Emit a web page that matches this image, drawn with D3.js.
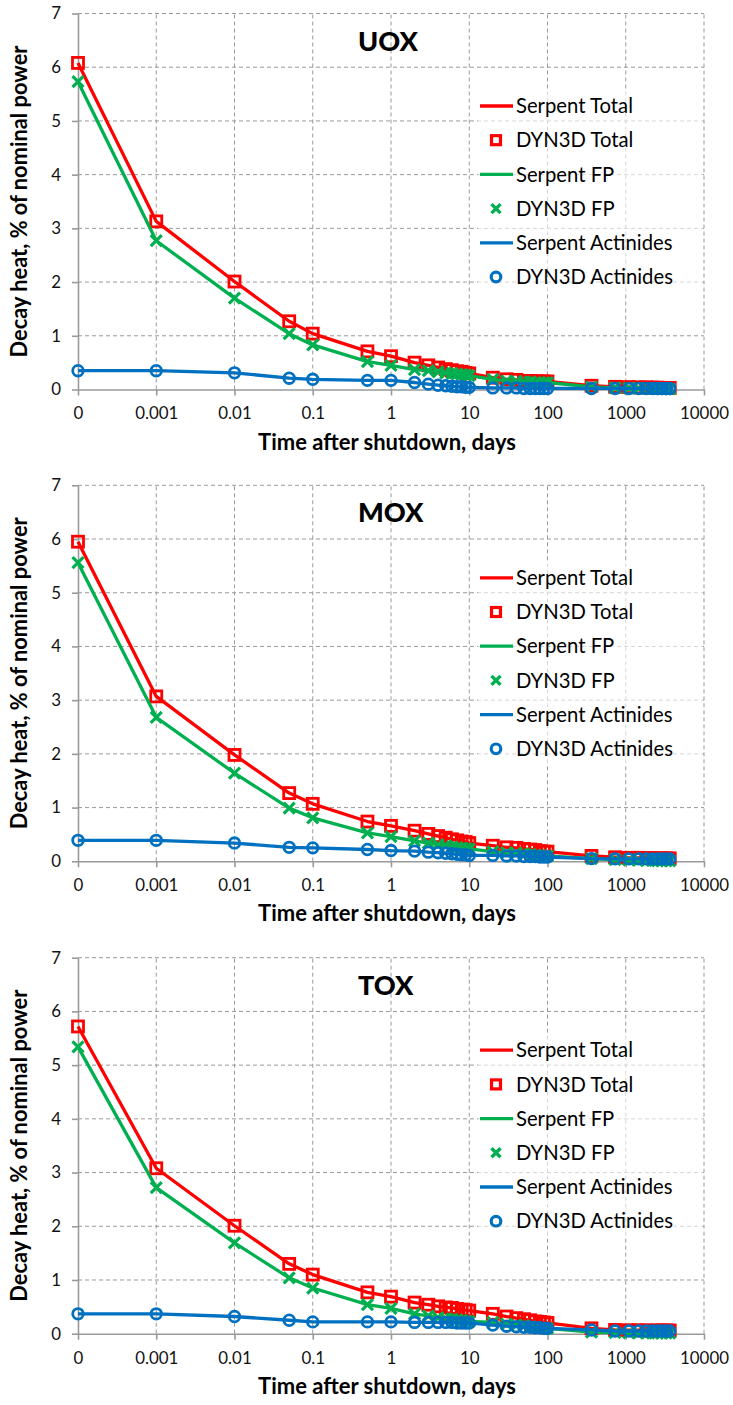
<!DOCTYPE html>
<html><head><meta charset="utf-8">
<script src="https://cdn.jsdelivr.net/npm/d3@7"></script>
<style>body{margin:0;background:#fff} svg{display:block}</style>
</head><body><svg id="c" width="733" height="1405"></svg>
<script>
// ---------- data ----------
const times = [0,0.001,0.01,0.05,0.1,0.5,1,2,3,4,5,6,7,8,9,10,20,30,40,50,60,70,80,90,100,365,730,1095,1460,1825,2190,2555,2920,3285,3650];
const xTickValues = [1e-4,1e-3,1e-2,1e-1,1,10,100,1000,10000];
const xTickLabels = ["0","0.001","0.01","0.1","1","10","100","1000","10000"];
const yTickValues = [0,1,2,3,4,5,6,7];
const panelTitles = ["UOX","MOX","TOX"];
const legendLabels = ["Serpent Total","DYN3D Total","Serpent FP","DYN3D FP","Serpent Actinides","DYN3D Actinides"];

const uoxTotal = [6.08,3.13,2.01,1.27,1.04,0.71,0.62,0.50,0.45,0.41,0.38,0.36,0.34,0.33,0.31,0.30,0.22,0.19,0.18,0.16,0.16,0.15,0.15,0.15,0.15,0.07,0.05,0.045,0.04,0.04,0.035,0.035,0.03,0.03,0.03];
const uoxFP    = [5.73,2.77,1.70,1.04,0.83,0.52,0.45,0.37,0.35,0.33,0.31,0.30,0.29,0.28,0.27,0.26,0.19,0.16,0.15,0.14,0.14,0.13,0.13,0.13,0.13,0.05,0.03,0.025,0.02,0.02,0.015,0.015,0.01,0.01,0.01];
const uoxAct   = [0.35,0.35,0.31,0.21,0.19,0.17,0.17,0.13,0.10,0.08,0.07,0.06,0.05,0.05,0.04,0.04,0.03,0.03,0.03,0.02,0.02,0.02,0.02,0.02,0.02,0.02,0.02,0.02,0.02,0.02,0.02,0.02,0.02,0.02,0.02];

const moxTotal = [5.95,3.07,1.98,1.27,1.07,0.74,0.66,0.57,0.51,0.47,0.44,0.41,0.39,0.37,0.36,0.34,0.29,0.26,0.25,0.23,0.22,0.21,0.19,0.18,0.18,0.10,0.075,0.065,0.065,0.06,0.06,0.055,0.055,0.055,0.055];
const moxFP    = [5.56,2.68,1.64,0.99,0.81,0.53,0.46,0.38,0.34,0.31,0.29,0.27,0.26,0.25,0.24,0.23,0.18,0.16,0.15,0.14,0.13,0.12,0.11,0.10,0.10,0.05,0.03,0.02,0.02,0.015,0.015,0.01,0.01,0.01,0.01];
const moxAct   = [0.39,0.39,0.34,0.26,0.25,0.22,0.20,0.19,0.17,0.16,0.15,0.14,0.13,0.12,0.12,0.11,0.11,0.10,0.10,0.09,0.09,0.09,0.08,0.08,0.08,0.05,0.045,0.045,0.045,0.045,0.045,0.045,0.045,0.045,0.045];

const toxTotal = [5.72,3.08,2.01,1.30,1.10,0.77,0.69,0.58,0.54,0.51,0.49,0.48,0.46,0.45,0.44,0.43,0.37,0.32,0.29,0.27,0.25,0.23,0.22,0.21,0.20,0.10,0.07,0.065,0.065,0.06,0.06,0.06,0.06,0.06,0.06];
const toxFP    = [5.34,2.72,1.69,1.04,0.85,0.54,0.47,0.37,0.33,0.30,0.28,0.27,0.26,0.25,0.24,0.23,0.21,0.18,0.16,0.15,0.13,0.12,0.11,0.11,0.10,0.03,0.02,0.015,0.015,0.01,0.01,0.01,0.01,0.01,0.01];
const toxAct   = [0.37,0.37,0.32,0.25,0.22,0.22,0.22,0.21,0.21,0.21,0.21,0.21,0.20,0.20,0.20,0.20,0.16,0.14,0.13,0.12,0.12,0.11,0.11,0.10,0.10,0.07,0.05,0.05,0.05,0.05,0.05,0.05,0.05,0.05,0.05];

const panelData = [
  {total: uoxTotal, fp: uoxFP, act: uoxAct},
  {total: moxTotal, fp: moxFP, act: moxAct},
  {total: toxTotal, fp: toxFP, act: toxAct}
];

// ---------- layout ----------
const RED = "#FF0000", GREEN = "#00B050", BLUE = "#0070C0", GRID = "#9a9a9a";
const FONT = "Lato, 'Open Sans', sans-serif";
const left = 78, right = 704;
const panelTops = [13.5, 485.3, 957.7];
const plotH = 376;

const svg = d3.select("#c");
const x = d3.scaleLog().domain([1e-4, 1e4]).range([left, right]);
const xv = t => x(t === 0 ? 1e-4 : t);

function fit(sel, target) {
  const w = sel.node().getComputedTextLength();
  const fs = parseFloat(sel.attr("font-size"));
  sel.attr("font-size", fs * target / w);
  return fs * target / w;
}

let legendFS = null, tickFS = null, titleFS = null, yTitleFS = null, xTitleFS = null;

panelTitles.forEach((title, pi) => {
  const top = panelTops[pi];
  const y = d3.scaleLinear().domain([0, 7]).range([top + plotH, top]);
  const g = svg.append("g");
  const d = panelData[pi];

  // grid
  g.append("g").selectAll("line").data(yTickValues.filter(v => v > 0)).join("line")
    .attr("x1", left).attr("x2", right).attr("y1", v => y(v)).attr("y2", v => y(v))
    .attr("stroke", GRID).attr("stroke-width", 1).attr("stroke-dasharray", "4,3");
  g.append("g").selectAll("line").data(xTickValues.slice(1)).join("line")
    .attr("x1", v => x(v)).attr("x2", v => x(v)).attr("y1", y(0)).attr("y2", y(7))
    .attr("stroke", GRID).attr("stroke-width", 1).attr("stroke-dasharray", "4,3");

  // axes
  const xAxis = d3.axisBottom(x).tickValues(xTickValues).tickFormat((v, i) => xTickLabels[i]).tickSizeInner(6).tickSizeOuter(0).tickPadding(12);
  const gx = g.append("g").attr("transform", `translate(0,${y(0)})`).call(xAxis);
  const yAxis = d3.axisLeft(y).tickValues(yTickValues).tickFormat(d3.format("d")).tickSizeInner(6).tickSizeOuter(0).tickPadding(11);
  const gy = g.append("g").attr("transform", `translate(${left},0)`).call(yAxis);
  [gx, gy].forEach(a => {
    a.select(".domain").attr("stroke", GRID).attr("stroke-width", 1.6);
    a.selectAll(".tick line").attr("stroke", GRID).attr("stroke-width", 1.6);
    a.selectAll(".tick text").attr("fill", "#111").attr("font-family", FONT).attr("font-size", 17);
  });
  if (tickFS === null) {
    const t = gx.selectAll(".tick text").filter((v, i) => i === 8);
    tickFS = fit(t, 49);
  }
  gx.selectAll(".tick text").attr("font-size", tickFS).attr("dy", "0.71em");
  gy.selectAll(".tick text").attr("font-size", tickFS);

  // series
  const line = arr => d3.line().x((v, i) => xv(times[i])).y(v => y(v))(arr);
  function drawLine(arr, color) {
    g.append("path").attr("d", line(arr)).attr("fill", "none").attr("stroke", color)
      .attr("stroke-width", 3.3).attr("stroke-linejoin", "round");
  }
  drawLine(d.total, RED);
  g.append("g").selectAll("rect").data(d.total).join("rect")
    .attr("x", (v, i) => xv(times[i]) - 5.5).attr("y", v => y(v) - 5.5)
    .attr("width", 11).attr("height", 11).attr("fill", "none").attr("stroke", RED).attr("stroke-width", 2.8);
  drawLine(d.fp, GREEN);
  g.append("g").selectAll("path").data(d.fp).join("path")
    .attr("d", (v, i) => { const cx = xv(times[i]), cy = y(v), s = 5.5;
      return `M${cx-s},${cy-s}L${cx+s},${cy+s}M${cx-s},${cy+s}L${cx+s},${cy-s}`; })
    .attr("stroke", GREEN).attr("stroke-width", 3.2).attr("fill", "none");
  drawLine(d.act, BLUE);
  g.append("g").selectAll("circle").data(d.act).join("circle")
    .attr("cx", (v, i) => xv(times[i])).attr("cy", v => y(v)).attr("r", 5.3)
    .attr("fill", "none").attr("stroke", BLUE).attr("stroke-width", 2.8);

  // title
  const tt = g.append("text").attr("x", 358).attr("y", top + 37).text(title)
    .attr("font-family", FONT).attr("font-weight", 900).attr("font-size", 28).attr("fill", "#000");
  if (titleFS === null) titleFS = fit(tt, 60);
  tt.attr("font-size", titleFS);

  // legend
  const lg = g.append("g");
  lg.append("rect").attr("x", 478).attr("y", top + 76).attr("width", 225).attr("height", 204)
    .attr("fill", "#fff").attr("opacity", 0.6);
  const colors = [RED, RED, GREEN, GREEN, BLUE, BLUE];
  legendLabels.forEach((lab, k) => {
    const cy = top + 92.5 + k * 34.2;
    const c = colors[k];
    if (k % 2 === 0) {
      lg.append("line").attr("x1", 480).attr("x2", 513).attr("y1", cy).attr("y2", cy)
        .attr("stroke", c).attr("stroke-width", 3.3);
    } else if (k === 1) {
      lg.append("rect").attr("x", 496 - 4.5).attr("y", cy - 4.5).attr("width", 9).attr("height", 9)
        .attr("fill", "none").attr("stroke", c).attr("stroke-width", 3.2);
    } else if (k === 3) {
      const s = 4.5;
      lg.append("path").attr("d", `M${496-s},${cy-s}L${496+s},${cy+s}M${496-s},${cy+s}L${496+s},${cy-s}`)
        .attr("stroke", c).attr("stroke-width", 3.4);
    } else {
      lg.append("circle").attr("cx", 496).attr("cy", cy).attr("r", 4.8)
        .attr("fill", "none").attr("stroke", c).attr("stroke-width", 3.2);
    }
    const tx = lg.append("text").attr("x", 516).attr("y", cy).attr("dy", "0.36em").text(lab)
      .attr("font-family", FONT).attr("font-size", 21).attr("fill", "#000");
    if (k === 5 && legendFS === null) legendFS = fit(tx, 157);
  });

  // axis titles
  const xt = g.append("text").attr("x", (left + right) / 2 - 4).attr("y", y(0) + 60)
    .attr("text-anchor", "middle").text("Time after shutdown, days")
    .attr("font-family", FONT).attr("font-weight", "bold").attr("font-size", 19).attr("fill", "#000");
  if (xTitleFS === null) xTitleFS = fit(xt, 258);
  xt.attr("font-size", xTitleFS);
  const yt = g.append("text").attr("transform", `translate(27,${top + plotH / 2}) rotate(-90)`)
    .attr("text-anchor", "middle").text("Decay heat, % of nominal power")
    .attr("font-family", FONT).attr("font-weight", "bold").attr("font-size", 19).attr("fill", "#000");
  if (yTitleFS === null) yTitleFS = fit(yt, 312);
  yt.attr("font-size", yTitleFS);
});
svg.selectAll("text").filter(function(){ return this.textContent && legendLabels.includes(this.textContent); })
  .attr("font-size", legendFS);
</script>
</body></html>
